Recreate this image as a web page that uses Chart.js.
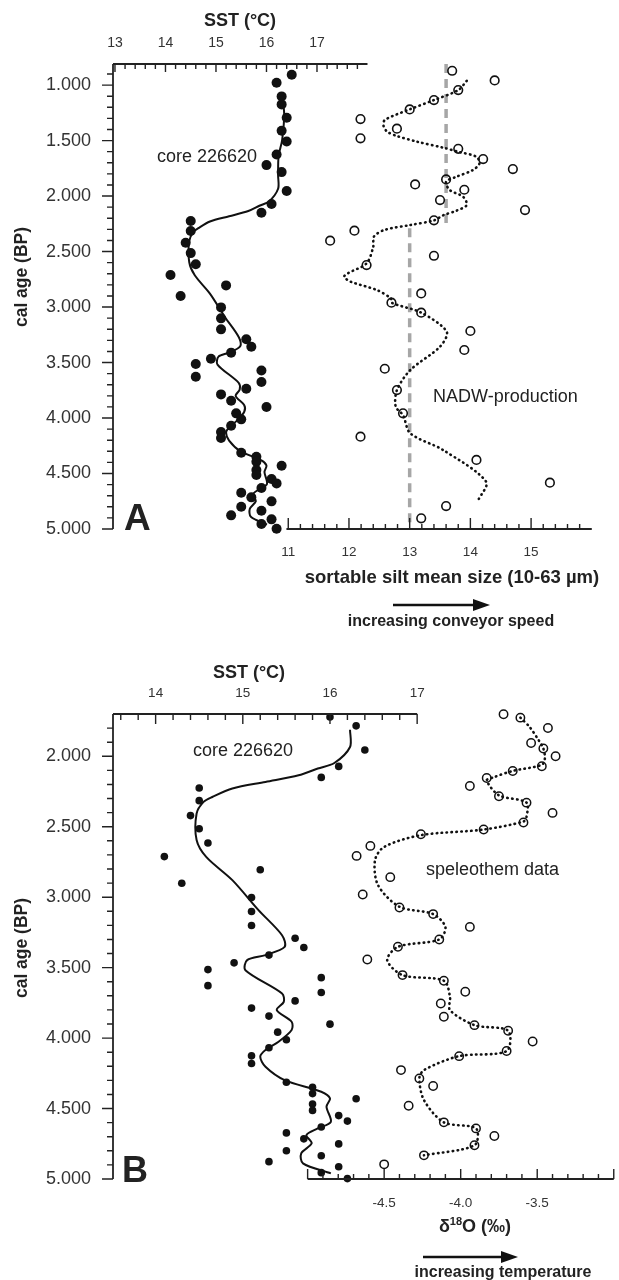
<!DOCTYPE html>
<html>
<head>
<meta charset="utf-8">
<script src="https://cdn.jsdelivr.net/npm/chart.js@4.4.1/dist/chart.umd.min.js"></script>
<style>
  html, body { margin: 0; padding: 0; background: #fff; }
  body { width: 619px; height: 1280px; overflow: hidden; position: relative; }
  .panel { position: absolute; left: 0; width: 619px; height: 640px; }
  #panelA { top: 0; }
  #panelB { top: 640px; }
</style>
</head>
<body>
<div class="panel" id="panelA"><canvas id="chartA" width="619" height="640"></canvas></div>
<div class="panel" id="panelB"><canvas id="chartB" width="619" height="640"></canvas></div>
<script>
const FONT = "'Liberation Sans', Arial, Helvetica, sans-serif";
Chart.defaults.font.family = FONT;
Chart.defaults.color = "#222";

// core 226620 SST (same core in both panels)
const sstAge = [907, 979, 1102, 1174, 1294, 1412, 1508, 1625, 1721, 1784, 1955, 2072, 2150,
  2225, 2315, 2421, 2514, 2615, 2712, 2805, 2901, 3003, 3102, 3201, 3291, 3357, 3411, 3466,
  3514, 3628, 3571, 3676, 3736, 3787, 3844, 3901, 3958, 4012, 4069, 4126, 4180, 4313, 4349,
  4394, 4430, 4468, 4513, 4550, 4589, 4631, 4673, 4715, 4751, 4799, 4835, 4877, 4913, 4955, 4997];
const sstValue = [16.5, 16.2, 16.3, 16.3, 16.4, 16.3, 16.4, 16.2, 16.0, 16.3, 16.4, 16.1, 15.9,
  14.5, 14.5, 14.4, 14.5, 14.6, 14.1, 15.2, 14.3, 15.1, 15.1, 15.1, 15.6, 15.7, 15.3, 14.9,
  14.6, 14.6, 15.9, 15.9, 15.6, 15.1, 15.3, 16.0, 15.4, 15.5, 15.3, 15.1, 15.1, 15.5, 15.8,
  15.8, 16.3, 15.8, 15.8, 16.1, 16.2, 15.9, 15.5, 15.7, 16.1, 15.5, 15.9, 15.3, 16.1, 15.9, 16.2];

const sstSmoothAge = [1080, 1255, 1495, 1640, 1811, 1934, 2048, 2087, 2135, 2182, 2229, 2289, 2324,
  2406, 2594, 2714, 2879, 3092, 3270, 3353, 3411, 3447, 3518, 3683, 3743, 3801, 3884, 3943, 4026,
  4085, 4132, 4203, 4298, 4381, 4428, 4487, 4594, 4641, 4688, 4747, 4818, 4889, 4960];
const sstSmoothValue = [16.30, 16.35, 16.31, 16.24, 16.23, 16.23, 16.05, 15.86, 15.64, 15.26, 14.88, 14.65, 14.55,
  14.47, 14.47, 14.58, 14.88, 15.18, 15.45, 15.48, 15.26, 15.05, 15.03, 15.45, 15.47, 15.39, 15.56, 15.56, 15.41,
  15.26, 15.20, 15.26, 15.48, 15.90, 16.00, 15.96, 16.01, 15.86, 15.73, 15.79, 15.67, 15.69, 16.01];

// sortable silt (panel A)
const siltAge = [871, 958, 1045, 1135, 1219, 1306, 1393, 1480, 1574, 1667, 1757, 1850, 1895, 1943,
  2036, 2126, 2219, 2312, 2402, 2538, 2622, 2877, 2961, 3051, 3216, 3387, 3556, 3748, 3958, 4168,
  4378, 4583, 4793, 4904];
const siltValue = [13.70, 14.40, 13.80, 13.40, 13.00, 12.19, 12.79, 12.19, 13.80, 14.21, 14.70, 13.60, 13.09, 13.90,
  13.50, 14.90, 13.40, 12.09, 11.69, 13.40, 12.29, 13.19, 12.70, 13.19, 14.00, 13.90, 12.59, 12.79, 12.89, 12.19,
  14.10, 15.31, 13.60, 13.19];

const siltSmoothAge = [961, 1045, 1135, 1219, 1315, 1369, 1420, 1459, 1510, 1565, 1601, 1646, 1706, 1766,
  1826, 1871, 1946, 2006, 2081, 2132, 2171, 2219, 2261, 2306, 2366, 2456, 2606, 2696, 2727, 2772, 2847,
  2922, 2961, 3051, 3222, 3357, 3568, 3748, 3898, 3973, 4138, 4288, 4574, 4739];
const siltSmoothValue = [13.94, 13.80, 13.40, 13.00, 12.59, 12.57, 12.63, 12.79, 13.12, 13.56, 13.80, 14.10, 14.15, 14.04,
  13.77, 13.60, 13.66, 13.88, 13.94, 13.77, 13.56, 13.40, 13.01, 12.58, 12.41, 12.40, 12.29, 11.98, 11.92, 12.03, 12.46,
  12.69, 12.70, 13.19, 13.61, 13.50, 13.01, 12.79, 12.77, 12.89, 13.01, 13.55, 14.26, 14.13];

// NADW-production levels (grey dashed)
const nadwLevel = [13.6, 13.0];
const nadwFrom = [810, 2290];
const nadwTo = [2290, 5000];

// speleothem d18O (panel B)
const speleoAge = [1702, 1726, 1799, 1906, 1945, 2000, 2071, 2104, 2154, 2211, 2284, 2329, 2402, 2470,
  2520, 2553, 2636, 2707, 2858, 2981, 3073, 3120, 3211, 3300, 3352, 3442, 3553, 3593, 3671, 3754,
  3849, 3908, 3948, 4024, 4092, 4128, 4227, 4286, 4340, 4480, 4598, 4641, 4695, 4761, 4832, 4896];
const speleoValue = [-3.72, -3.61, -3.43, -3.54, -3.46, -3.38, -3.47, -3.66, -3.83, -3.94, -3.75, -3.57, -3.40, -3.59,
  -3.85, -4.26, -4.59, -4.68, -4.46, -4.64, -4.40, -4.18, -3.94, -4.14, -4.41, -4.61, -4.38, -4.11, -3.97, -4.13,
  -4.11, -3.91, -3.69, -3.53, -3.70, -4.01, -4.39, -4.27, -4.18, -4.34, -4.11, -3.90, -3.78, -3.91, -4.24, -4.50];

const speleoSmoothAge = [1726, 1792, 1887, 1945, 2016, 2061, 2104, 2151, 2172, 2277, 2329, 2430, 2463, 2520,
  2560, 2643, 2738, 2915, 3068, 3120, 3211, 3300, 3352, 3447, 3553, 3593, 3707, 3801, 3908, 3948, 4092,
  4128, 4227, 4286, 4440, 4598, 4641, 4761, 4832];
const speleoSmoothValue = [-3.61, -3.55, -3.49, -3.46, -3.45, -3.47, -3.66, -3.79, -3.83, -3.75, -3.57, -3.57, -3.59, -3.85,
  -4.26, -4.50, -4.56, -4.54, -4.40, -4.18, -4.10, -4.14, -4.41, -4.48, -4.38, -4.11, -4.07, -4.07, -3.91, -3.69, -3.70,
  -4.01, -4.24, -4.27, -4.24, -4.11, -3.90, -3.91, -4.24];

// tick labels
const ageTicksA = [1000, 1500, 2000, 2500, 3000, 3500, 4000, 4500, 5000];
const ageTicksB = [2000, 2500, 3000, 3500, 4000, 4500, 5000];
const sstTicksA = [13, 14, 15, 16, 17];
const sstTicksB = [14, 15, 16, 17];
const siltTicks = [11, 12, 13, 14, 15];
const d18oTicks = [-4.5, -4.0, -3.5];

function pts(ages, values, minAge) {
  return ages
    .map((a, i) => ({ x: values[i], y: a }))
    .filter(p => minAge === undefined || p.y >= minAge);
}

// axis lines and tick marks drawn along the chart's own scales
const axisMarks = {
  id: "axisMarks",
  afterDraw(chart, args, opts) {
    const ctx = chart.ctx;
    ctx.save();
    ctx.strokeStyle = "#222";
    (opts.axes || []).forEach(a => {
      const s = chart.scales[a.id];
      const vertical = s.isHorizontal() === false;
      ctx.lineWidth = 1.8;
      ctx.beginPath();
      if (vertical) {
        const x = s.right;
        ctx.moveTo(x, s.getPixelForValue(a.from));
        ctx.lineTo(x, s.getPixelForValue(a.to));
      } else {
        const y = s.position === "top" ? s.bottom : s.top;
        ctx.moveTo(s.getPixelForValue(a.from), y);
        ctx.lineTo(s.getPixelForValue(a.to), y);
      }
      ctx.stroke();
      ctx.lineWidth = 1.4;
      ctx.beginPath();
      const n = Math.round((a.tickTo - a.tickFrom) / a.step);
      for (let i = 0; i <= n; i++) {
        const v = a.tickFrom + i * a.step;
        const r = v / a.majorStep;
        const len = Math.abs(r - Math.round(r)) < 1e-6 ? a.major : a.minor;
        const p = s.getPixelForValue(v);
        if (vertical) {
          ctx.moveTo(s.right, p);
          ctx.lineTo(s.right - len, p);
        } else if (s.position === "top") {
          ctx.moveTo(p, s.bottom);
          ctx.lineTo(p, s.bottom + len);
        } else {
          ctx.moveTo(p, s.top);
          ctx.lineTo(p, s.top - len);
        }
      }
      ctx.stroke();
    });
    ctx.restore();
  }
};

// titles, annotations and arrows
const panelText = {
  id: "panelText",
  afterDraw(chart, args, opts) {
    const ctx = chart.ctx;
    ctx.save();
    ctx.fillStyle = "#222";
    ctx.strokeStyle = "#111";
    (opts.items || []).forEach(t => {
      if (t.arrow) {
        ctx.lineWidth = 2.5;
        ctx.beginPath();
        ctx.moveTo(t.x1, t.y);
        ctx.lineTo(t.x2 - 14, t.y);
        ctx.stroke();
        ctx.fillStyle = "#111";
        ctx.beginPath();
        ctx.moveTo(t.x2, t.y);
        ctx.lineTo(t.x2 - 17, t.y - 6);
        ctx.lineTo(t.x2 - 17, t.y + 6);
        ctx.closePath();
        ctx.fill();
        ctx.fillStyle = "#222";
        return;
      }
      if (t.parts) {
        let w = 0;
        t.parts.forEach(p => {
          ctx.font = p.font;
          w += ctx.measureText(p.text).width;
        });
        let x = t.x - w / 2;
        ctx.textBaseline = "alphabetic";
        ctx.textAlign = "left";
        t.parts.forEach(p => {
          ctx.font = p.font;
          ctx.fillText(p.text, x, t.y - (p.rise || 0));
          x += ctx.measureText(p.text).width;
        });
        return;
      }
      ctx.font = t.font;
      ctx.textAlign = t.align || "left";
      ctx.textBaseline = t.baseline || "middle";
      if (t.rotate) {
        ctx.save();
        ctx.translate(t.x, t.y);
        ctx.rotate(t.rotate);
        ctx.fillText(t.text, 0, 0);
        ctx.restore();
      } else {
        ctx.fillText(t.text, t.x, t.y);
      }
    });
    ctx.restore();
  }
};

function fixedTicks(values) {
  return scale => { scale.ticks = values.map(v => ({ value: v })); };
}

function hiddenGrid() {
  return { display: false, drawTicks: false };
}

const baseOptions = {
  responsive: false,
  animation: false,
  events: [],
  layout: { padding: { left: 0, right: 1, top: 0, bottom: 0 } },
  elements: { point: { hoverRadius: 0 } }
};

new Chart(document.getElementById("chartA"), {
  type: "scatter",
  data: {
    datasets: [
      {
        data: pts(sstAge, sstValue),
        xAxisID: "sst",
        pointRadius: 5,
        pointBackgroundColor: "#111",
        pointBorderWidth: 0,
        clip: false
      },
      {
        data: pts(sstSmoothAge, sstSmoothValue),
        xAxisID: "sst",
        showLine: true,
        pointRadius: 0,
        borderColor: "#111",
        borderWidth: 2,
        tension: 0.3,
        clip: false
      },
      {
        data: pts(siltAge, siltValue),
        xAxisID: "silt",
        pointRadius: 4.3,
        pointBackgroundColor: "rgba(255,255,255,0)",
        pointBorderColor: "#111",
        pointBorderWidth: 1.6,
        clip: false
      },
      {
        data: pts(siltSmoothAge, siltSmoothValue),
        xAxisID: "silt",
        showLine: true,
        pointRadius: 0,
        borderColor: "#111",
        borderWidth: 2.6,
        borderDash: [0.5, 4.4],
        borderCapStyle: "round",
        tension: 0.3,
        clip: false
      },
      ...nadwLevel.map((lvl, i) => ({
        data: [{ x: lvl, y: nadwFrom[i] }, { x: lvl, y: nadwTo[i] }],
        xAxisID: "silt",
        showLine: true,
        pointRadius: 0,
        borderColor: "#a6a6a6",
        borderWidth: 3.5,
        borderDash: [9, 6],
        clip: false
      }))
    ]
  },
  options: {
    ...baseOptions,
    plugins: {
      legend: { display: false },
      tooltip: { enabled: false },
      axisMarks: {
        axes: [
          { id: "y", from: 810, to: 5000, tickFrom: 900, tickTo: 5000, step: 100, majorStep: 500, major: 11, minor: 6 },
          { id: "sst", from: 12.961, to: 18.0, tickFrom: 13, tickTo: 17.8, step: 0.2, majorStep: 1, major: 8, minor: 5 },
          { id: "silt", from: 10.97, to: 16.0, tickFrom: 11, tickTo: 15.8, step: 0.2, majorStep: 1, major: 11, minor: 5 }
        ]
      },
      panelText: {
        items: [
          { text: "SST (°C)", x: 240, y: 21, font: "bold 18px " + FONT, align: "center" },
          { text: "cal age (BP)", x: 22, y: 277, font: "bold 17.5px " + FONT, align: "center", rotate: -Math.PI / 2 },
          { text: "core 226620", x: 157, y: 157, font: "18px " + FONT },
          { text: "A", x: 124, y: 530, font: "bold 37px " + FONT, baseline: "alphabetic" },
          { text: "NADW-production", x: 433, y: 397, font: "18px " + FONT },
          { text: "sortable silt mean size (10-63 µm)", x: 452, y: 578, font: "bold 18.5px " + FONT, align: "center" },
          { arrow: true, x1: 393, x2: 490, y: 605 },
          { text: "increasing conveyor speed", x: 451, y: 622, font: "bold 16px " + FONT, align: "center" }
        ]
      }
    },
    scales: {
      y: {
        type: "linear", position: "left", reverse: true, min: 810, max: 5000,
        grid: hiddenGrid(), border: { display: false },
        ticks: { padding: 22, font: { size: 18 }, color: "#333", callback: v => (v / 1000).toFixed(3) },
        afterBuildTicks: fixedTicks(ageTicksA),
        afterFit: s => { s.width = 113; }
      },
      sst: {
        type: "linear", position: "top", min: 12.961, max: 22.863,
        grid: hiddenGrid(), border: { display: false },
        ticks: { padding: 12, font: { size: 14 }, color: "#333", maxRotation: 0, autoSkip: false, callback: v => String(v) },
        afterBuildTicks: fixedTicks(sstTicksA),
        afterFit: s => { s.height = 64; }
      },
      silt: {
        type: "linear", position: "bottom", min: 8.113, max: 16.351,
        grid: hiddenGrid(), border: { display: false },
        ticks: { padding: 15, font: { size: 13.5 }, color: "#333", maxRotation: 0, autoSkip: false, callback: v => String(v) },
        afterBuildTicks: fixedTicks(siltTicks),
        afterFit: s => { s.height = 111; }
      }
    }
  },
  plugins: [axisMarks, panelText]
});

new Chart(document.getElementById("chartB"), {
  type: "scatter",
  data: {
    datasets: [
      {
        data: pts(sstAge, sstValue, 1700),
        xAxisID: "sst",
        pointRadius: 3.8,
        pointBackgroundColor: "#111",
        pointBorderWidth: 0,
        clip: false
      },
      {
        data: pts(sstSmoothAge, sstSmoothValue, 1700),
        xAxisID: "sst",
        showLine: true,
        pointRadius: 0,
        borderColor: "#111",
        borderWidth: 2,
        tension: 0.3,
        clip: false
      },
      {
        data: pts(speleoAge, speleoValue),
        xAxisID: "d18o",
        pointRadius: 4.2,
        pointBackgroundColor: "rgba(255,255,255,0)",
        pointBorderColor: "#111",
        pointBorderWidth: 1.5,
        clip: false
      },
      {
        data: pts(speleoSmoothAge, speleoSmoothValue),
        xAxisID: "d18o",
        showLine: true,
        pointRadius: 0,
        borderColor: "#111",
        borderWidth: 2.6,
        borderDash: [0.5, 4.4],
        borderCapStyle: "round",
        tension: 0.3,
        clip: false
      }
    ]
  },
  options: {
    ...baseOptions,
    plugins: {
      legend: { display: false },
      tooltip: { enabled: false },
      axisMarks: {
        axes: [
          { id: "y", from: 1700, to: 5000, tickFrom: 1800, tickTo: 5000, step: 100, majorStep: 500, major: 11, minor: 6 },
          { id: "sst", from: 13.511, to: 17.0, tickFrom: 13.6, tickTo: 17.0, step: 0.2, majorStep: 1, major: 10, minor: 6 },
          { id: "d18o", from: -5.0, to: -3.0, tickFrom: -5.0, tickTo: -3.0, step: 0.1, majorStep: 0.5, major: 10, minor: 5 }
        ]
      },
      panelText: {
        items: [
          { text: "SST (°C)", x: 249, y: 33, font: "bold 18px " + FONT, align: "center" },
          { text: "cal age (BP)", x: 22, y: 308, font: "bold 17.5px " + FONT, align: "center", rotate: -Math.PI / 2 },
          { text: "core 226620", x: 193, y: 111, font: "18px " + FONT },
          { text: "B", x: 122, y: 542, font: "bold 36px " + FONT, baseline: "alphabetic" },
          { text: "speleothem data", x: 426, y: 230, font: "18px " + FONT },
          {
            x: 475, y: 592,
            parts: [
              { text: "δ", font: "bold 18px " + FONT },
              { text: "18", font: "bold 11px " + FONT, rise: 7 },
              { text: "O (‰)", font: "bold 18px " + FONT }
            ]
          },
          { arrow: true, x1: 423, x2: 518, y: 617 },
          { text: "increasing temperature", x: 503, y: 633, font: "bold 16px " + FONT, align: "center" }
        ]
      }
    },
    scales: {
      y: {
        type: "linear", position: "left", reverse: true, min: 1700, max: 5000,
        grid: hiddenGrid(), border: { display: false },
        ticks: { padding: 22, font: { size: 18 }, color: "#333", callback: v => (v / 1000).toFixed(3) },
        afterBuildTicks: fixedTicks(ageTicksB),
        afterFit: s => { s.width = 113; }
      },
      sst: {
        type: "linear", position: "top", min: 13.511, max: 19.250,
        grid: hiddenGrid(), border: { display: false },
        ticks: { padding: 13, font: { size: 13.5 }, color: "#333", maxRotation: 0, autoSkip: false, callback: v => String(v) },
        afterBuildTicks: fixedTicks(sstTicksB),
        afterFit: s => { s.height = 74; }
      },
      d18o: {
        type: "linear", position: "bottom", min: -6.2715, max: -3.003,
        grid: hiddenGrid(), border: { display: false },
        ticks: { padding: 16, font: { size: 13.5 }, color: "#333", maxRotation: 0, autoSkip: false, callback: v => v.toFixed(1) },
        afterBuildTicks: fixedTicks(d18oTicks),
        afterFit: s => { s.height = 101; }
      }
    }
  },
  plugins: [axisMarks, panelText]
});
</script>
</body>
</html>
